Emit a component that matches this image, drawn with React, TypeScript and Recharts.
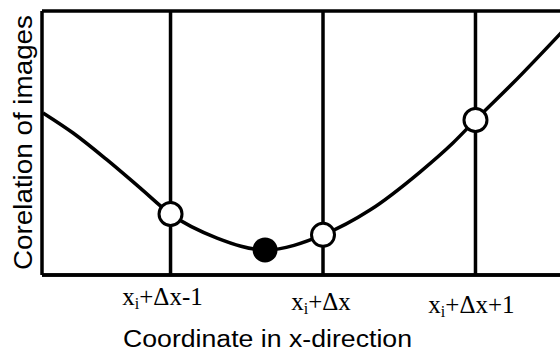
import { ComposedChart, Line, Scatter, XAxis, YAxis, CartesianGrid, ReferenceLine, Customized } from 'recharts';

// curve of the correlation along x (unit = one pixel step, 0 = x_i+Δx)
const curveX = [-1.836, -1.639, -1.416, -1.2, -1.0, -0.695, -0.38, 0, 0.308, 0.636, 0.852, 1.0, 1.246, 1.574];
const curveY = [0.614, 0.538, 0.436, 0.33, 0.231, 0.14, 0.095, 0.152, 0.246, 0.39, 0.5, 0.587, 0.727, 0.925];

// sampled positions (open circles) and the estimated minimum (filled)
const sampleX = [-1, 0, 1];
const sampleY = [0.231, 0.152, 0.587];
const minX = [-0.38];
const minY = [0.095];

const tickValues = [-1, 0, 1];
const tickSuffix = ['-1', '', '+1'];
// small hand nudges for the tick captions
const tickNudgeX = [-8, -2, -4];
const tickNudgeY = [0, 5, 8];

const curveData = curveX.map((x, i) => ({ x, y: curveY[i] }));
const sampleData = sampleX.map((x, i) => ({ x, y: sampleY[i] }));
const minData = minX.map((x, i) => ({ x, y: minY[i] }));

const INK = '#000';
const LINE_W = 3.5;

const renderTick = (props: any) => {
  const { x, y, payload } = props;
  const idx = tickValues.indexOf(payload.value);
  if (idx < 0) return null;
  return (
    <text
      x={x + tickNudgeX[idx]}
      y={y + 22 + tickNudgeY[idx]}
      textAnchor="middle"
      fontFamily="'Liberation Serif', 'Times New Roman', serif"
      fontSize={25}
      fill={INK}
    >
      x
      <tspan fontSize={16} dy={4}>i</tspan>
      <tspan dy={-4}>{'+Δx' + tickSuffix[idx]}</tspan>
    </text>
  );
};

const openDot = (props: any) => (
  <circle cx={props.cx} cy={props.cy} r={11.5} fill="#fff" stroke={INK} strokeWidth={3} />
);
const filledDot = (props: any) => (
  <circle cx={props.cx} cy={props.cy} r={12.5} fill={INK} stroke="none" />
);

const Titles = () => (
  <g fill={INK} fontFamily="'Liberation Sans', Arial, sans-serif">
    <text x={123} y={347} fontSize={23} textLength={289} lengthAdjust="spacingAndGlyphs">
      Coordinate in x-direction
    </text>
    <text
      x={31.5}
      y={142.5}
      fontSize={26}
      textAnchor="middle"
      textLength={255}
      lengthAdjust="spacingAndGlyphs"
      transform="rotate(-90, 31.5, 142.5)"
    >
      Corelation of images
    </text>
  </g>
);

export default function App() {
  return (
    <div style={{ position: 'absolute', left: 0, top: 0, background: '#fff', overflow: 'hidden', width: 560, height: 351 }}>
      <ComposedChart
        width={560}
        height={351}
        data={curveData}
        margin={{ top: 11, right: -3, left: 40, bottom: 36 }}
      >
        <CartesianGrid stroke={INK} strokeWidth={LINE_W} horizontal={true} vertical={false} />
        <XAxis
          type="number"
          dataKey="x"
          domain={[-1.843, 1.574]}
          allowDataOverflow
          ticks={tickValues}
          tick={renderTick}
          tickLine={false}
          axisLine={{ stroke: INK, strokeWidth: LINE_W }}
          height={40}
        />
        <YAxis
          type="number"
          dataKey="y"
          domain={[0, 1]}
          ticks={[0, 1]}
          tick={false}
          tickLine={false}
          width={2}
          axisLine={{ stroke: INK, strokeWidth: LINE_W }}
        />
        {tickValues.map((v) => (
          <ReferenceLine key={v} x={v} stroke={INK} strokeWidth={LINE_W} />
        ))}
        <Line
          type="monotone"
          dataKey="y"
          stroke={INK}
          strokeWidth={LINE_W}
          dot={false}
          isAnimationActive={false}
        />
        <Scatter data={sampleData} dataKey="y" shape={openDot} isAnimationActive={false} />
        <Scatter data={minData} dataKey="y" shape={filledDot} isAnimationActive={false} />
        <Customized component={Titles} />
      </ComposedChart>
    </div>
  );
}
